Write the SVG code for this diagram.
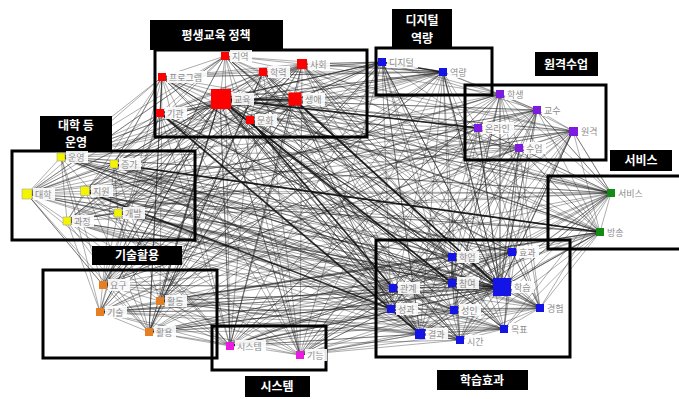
<svg xmlns="http://www.w3.org/2000/svg" width="679" height="399" viewBox="0 0 679 399">
<style>
.e{fill:none;stroke:#222;stroke-width:0.6;stroke-opacity:0.62}
.et{fill:none;stroke:#111;stroke-width:1.7;stroke-opacity:0.85}
.gb{fill:none;stroke:#000;stroke-width:3}
.tb{fill:#000}
.tt{fill:#fff;font-family:"Noto Sans CJK KR","Noto Sans",sans-serif;font-size:12px;font-weight:bold;text-anchor:middle}
.lb{fill:#fff;fill-opacity:0.9}
.lt{fill:#8c8c8c;font-family:"Noto Sans CJK KR","Noto Sans",sans-serif;font-size:9px}
.r{fill:#ff0000}.p{fill:#7d1ce0}.bl{fill:#1414e6}.y{fill:#f4f400;stroke:#999;stroke-width:0.5}
.o{fill:#e67e22}.g{fill:#138a13}.m{fill:#e81ce0}
</style>
<rect width="679" height="399" fill="#fff"/>
<g id="connectors">
<path class="e" d="M225 56L300 355 302 64 230 346 162 77 149 332 263 72 100 312 220 99 160 301 295 100 103 285 160 113 460 340 250 120 420 334 382 62 504 329 443 72 540 308 500 94 454 310 537 110 391 309 478 128 500 288 573 131 452 283 519 148 393 288 61 157 512 252 114 164 452 257 27 194 600 232 85 191 611 193 118 213 67 221 611 193 61 157 600 232 114 164 540 308 162 77 500 288 225 56 460 340 302 64 420 334 220 99 504 329 263 72 391 309 295 100 393 288 160 113 452 257 250 120 452 283"/>
<path class="e" d="M27 194L573 131 85 191 537 110 118 213 500 94 67 221 519 148 103 285 478 128 100 312 443 72 160 301 382 62 149 332 500 94 230 346 537 110 300 355 573 131 103 285 611 193 160 301 600 232 100 312 512 252 149 332 500 288 230 346 540 308 300 355 452 257 61 157 500 288 27 194 452 283 85 191 454 310 118 213 504 329 67 221 460 340 114 164 393 288 61 157 391 309"/>
<path class="e" d="M220 99L382 62 220 99 443 72 220 99 500 94 220 99 478 128 220 99 519 148 220 99 611 193 220 99 600 232 220 99 452 257 220 99 512 252 220 99 452 283 220 99 454 310 220 99 391 309 220 99 393 288 220 99 420 334 220 99 230 346 220 99 300 355 220 99 149 332 220 99 160 301 220 99 103 285 220 99 100 312 220 99 118 213 220 99 85 191 220 99 27 194 220 99 67 221 220 99 61 157 220 99 114 164 220 99 537 110 220 99 573 131 220 99 540 308 220 99 504 329 220 99 460 340"/>
<path class="e" d="M500 288L225 56 500 288 302 64 500 288 162 77 500 288 263 72 500 288 295 100 500 288 160 113 500 288 250 120 500 288 382 62 500 288 443 72 500 288 500 94 500 288 537 110 500 288 478 128 500 288 573 131 500 288 519 148 500 288 61 157 500 288 114 164 500 288 85 191 500 288 118 213 500 288 67 221 500 288 611 193 500 288 600 232 500 288 103 285 500 288 160 301 500 288 100 312 500 288 149 332 500 288 230 346 500 288 300 355"/>
<path class="e" d="M225 56L302 64 263 72 295 100 250 120 220 99 162 77 160 113 225 56 263 72 220 99 302 64 295 100 160 113 162 77 250 120 225 56 220 99 295 100 162 77 263 72 250 120 302 64 160 113 263 72 M225 56L162 77 302 64 250 120 M160 113L295 100 225 56"/>
<path class="e" d="M452 257L512 252 452 283 500 288 393 288 391 309 454 310 540 308 504 329 420 334 460 340 452 257 452 283 393 288 454 310 500 288 540 308 512 252 504 329 460 340 420 334 391 309 452 283 452 257 500 288 454 310 512 252 393 288 420 334 504 329 391 309 460 340 540 308 452 283 504 329 452 257 391 309 512 252 420 334 500 288 460 340 393 288 540 308 452 257 454 310 420 334 452 283 460 340 512 252 540 308"/>
<path class="e" d="M500 94L537 110 478 128 573 131 519 148 500 94 478 128 519 148 537 110 573 131 500 94 382 62 443 72 500 94 611 193 573 131 600 232 519 148 611 193 537 110 600 232 478 128 443 72 537 110 382 62 478 128 611 193 600 232 500 94 M611 193L452 257 600 232 393 288 611 193 391 309 600 232 420 334 611 193 454 310 600 232 460 340 611 193 540 308 600 232 504 329 611 193 512 252 600 232 452 283 611 193 27 194 600 232 61 157 611 193 302 64 600 232 295 100 611 193 250 120 600 232 160 301"/>
<path class="e" d="M61 157L114 164 27 194 85 191 118 213 67 221 61 157 27 194 118 213 114 164 85 191 67 221 27 194 103 285 61 157 100 312 114 164 160 301 27 194 149 332 85 191 230 346 67 221 300 355 118 213 103 285 160 301 100 312 149 332 103 285 230 346 100 312 300 355 160 301 230 346 149 332 300 355 M61 157L162 77 114 164 225 56 27 194 160 113 85 191 302 64 118 213 263 72 67 221 250 120 61 157 295 100 27 194 162 77 114 164 160 113 85 191 250 120 118 213 302 64 67 221 162 77"/>
<path class="e" d="M382 62L27 194 443 72 61 157 382 62 67 221 443 72 103 285 382 62 160 301 443 72 230 346 382 62 300 355 443 72 391 309 382 62 452 283 443 72 500 288 382 62 420 334 443 72 460 340 382 62 302 64 443 72 295 100 382 62 263 72 443 72 250 120 382 62 160 113 443 72 162 77 M500 94L27 194 478 128 61 157 519 148 85 191 537 110 118 213 573 131 67 221 500 94 103 285 478 128 160 301 519 148 100 312 537 110 149 332 573 131 230 346 500 94 300 355 478 128 420 334 519 148 391 309 537 110 393 288 573 131 454 310 500 94 452 283 478 128 540 308 519 148 504 329 537 110 460 340 573 131 512 252"/>
<path class="e" d="M225 56L452 257 302 64 512 252 263 72 393 288 162 77 391 309 295 100 454 310 160 113 420 334 250 120 460 340 225 56 540 308 302 64 504 329 263 72 452 283 162 77 420 334 295 100 540 308 160 113 393 288 250 120 512 252 M225 56L103 285 302 64 160 301 263 72 149 332 162 77 100 312 295 100 230 346 160 113 300 355 250 120 103 285 225 56 230 346 302 64 149 332 263 72 300 355 162 77 160 301 295 100 100 312 160 113 149 332 250 120 230 346"/>
<path class="e" d="M27 194L452 257 61 157 454 310 114 164 420 334 85 191 460 340 118 213 393 288 67 221 391 309 27 194 504 329 61 157 452 283 114 164 512 252 85 191 540 308 118 213 452 283 67 221 420 334 M103 285L452 257 160 301 391 309 100 312 393 288 149 332 454 310 230 346 420 334 300 355 391 309 103 285 460 340 160 301 504 329 100 312 452 283 149 332 512 252 230 346 452 257 300 355 454 310 230 346 393 288"/>
<path class="e" d="M160 113L611 193 162 77 600 232 225 56 573 131 263 72 519 148 250 120 537 110 M302 64L500 94 295 100 478 128 250 120 382 62 160 113 443 72 162 77 382 62 M27 194L225 56 61 157 263 72 114 164 302 64 M103 285L27 194 M100 312L67 221 149 332 118 213 230 346 61 157 M230 346L391 309 300 355 420 334 230 346 460 340 300 355 504 329 149 332 540 308 100 312 420 334 160 301 452 257 M300 355L393 288 230 346 512 252 M573 131L611 193 537 110 M519 148L600 232 M225 56L443 72 302 64 382 62 M250 120L611 193"/>
<path class="et" d="M220 99L295 100 M220 99L452 283 M250 120L393 288 M295 100L500 288 M160 113L420 334 M85 191L391 309 M114 164L600 232 M220 99L478 128 M382 62L443 72 M452 283L500 288"/>
</g>
<g id="frames">
<rect class="gb" x="155" y="50" width="212" height="87"/>
<rect class="gb" x="376" y="48" width="116" height="47"/>
<rect class="gb" x="465" y="85" width="141" height="75"/>
<rect class="gb" x="12" y="151" width="183" height="89"/>
<rect class="gb" x="548" y="176" width="140" height="73"/>
<rect class="gb" x="376" y="240" width="194" height="117"/>
<rect class="gb" x="43" y="270" width="174" height="88"/>
<rect class="gb" x="212" y="326" width="114" height="44"/>
</g>
<g id="titles">
<rect class="tb" x="150" y="20" width="133" height="30"/><text class="tt" x="216" y="40">평생교육 정책</text>
<rect class="tb" x="392" y="9" width="60" height="40"/><text class="tt" x="422" y="25">디지털</text><text class="tt" x="422" y="43">역량</text>
<rect class="tb" x="535" y="52" width="63" height="24"/><text class="tt" x="566" y="69">원격수업</text>
<rect class="tb" x="40" y="116" width="72" height="35"/><text class="tt" x="76" y="130">대학 등</text><text class="tt" x="76" y="147">운영</text>
<rect class="tb" x="610" y="150" width="62" height="21"/><text class="tt" x="641" y="165">서비스</text>
<rect class="tb" x="92" y="246" width="90" height="19"/><text class="tt" x="137" y="260">기술활용</text>
<rect class="tb" x="245" y="376" width="65" height="21"/><text class="tt" x="277" y="391">시스템</text>
<rect class="tb" x="437" y="370" width="91" height="20"/><text class="tt" x="482" y="385">학습효과</text>
</g>
<g id="n-jiyeok"><rect class="r" x="221" y="52" width="8" height="8"/><rect class="lb" x="230" y="50" width="22" height="12"/><text class="lt" x="232" y="60">지역</text></g>
<g id="n-sahoe"><rect class="r" x="297" y="59" width="10" height="10"/><rect class="lb" x="308" y="58" width="22" height="12"/><text class="lt" x="310" y="68">사회</text></g>
<g id="n-program"><rect class="r" x="158" y="73" width="8" height="8"/><rect class="lb" x="167" y="71" width="40" height="12"/><text class="lt" x="169" y="81">프로그램</text></g>
<g id="n-hakryeok"><rect class="r" x="259" y="68" width="8" height="8"/><rect class="lb" x="268" y="66" width="22" height="12"/><text class="lt" x="270" y="76">학력</text></g>
<g id="n-gyoyuk"><rect class="r" x="211" y="89" width="20" height="20"/><rect class="lb" x="232" y="93" width="22" height="12"/><text class="lt" x="234" y="103">교육</text></g>
<g id="n-saeae"><rect class="r" x="288.5" y="92.5" width="13" height="13"/><rect class="lb" x="303" y="93" width="22" height="12"/><text class="lt" x="305" y="103">생애</text></g>
<g id="n-gigwan"><rect class="r" x="156" y="109" width="8" height="8"/><rect class="lb" x="165" y="107" width="22" height="12"/><text class="lt" x="167" y="117">기관</text></g>
<g id="n-munhwa"><rect class="r" x="246" y="116" width="8" height="8"/><rect class="lb" x="255" y="114" width="22" height="12"/><text class="lt" x="257" y="124">문화</text></g>
<g id="n-digital"><rect class="bl" x="378" y="58" width="8" height="8"/><rect class="lb" x="387" y="56" width="31" height="12"/><text class="lt" x="389" y="66">디지털</text></g>
<g id="n-yeokryang"><rect class="bl" x="439" y="68" width="8" height="8"/><rect class="lb" x="448" y="66" width="22" height="12"/><text class="lt" x="450" y="76">역량</text></g>
<g id="n-haksaeng"><rect class="p" x="496" y="90" width="8" height="8"/><rect class="lb" x="505" y="88" width="22" height="12"/><text class="lt" x="507" y="98">학생</text></g>
<g id="n-gyosu"><rect class="p" x="533" y="106" width="8" height="8"/><rect class="lb" x="542" y="104" width="22" height="12"/><text class="lt" x="544" y="114">교수</text></g>
<g id="n-online"><rect class="p" x="474" y="124" width="8" height="8"/><rect class="lb" x="483" y="122" width="31" height="12"/><text class="lt" x="485" y="132">온라인</text></g>
<g id="n-wongyeok"><rect class="p" x="569" y="127" width="9" height="9"/><rect class="lb" x="579" y="125" width="22" height="12"/><text class="lt" x="581" y="135">원격</text></g>
<g id="n-sueop"><rect class="p" x="515" y="144" width="8" height="8"/><rect class="lb" x="524" y="142" width="22" height="12"/><text class="lt" x="526" y="152">수업</text></g>
<g id="n-unyeong"><rect class="y" x="57" y="153" width="8" height="8"/><rect class="lb" x="66" y="151" width="22" height="12"/><text class="lt" x="68" y="161">운영</text></g>
<g id="n-jeungga"><rect class="y" x="110" y="160" width="8" height="8"/><rect class="lb" x="119" y="158" width="22" height="12"/><text class="lt" x="121" y="168">증가</text></g>
<g id="n-daehak"><rect class="y" x="22" y="189" width="10" height="10"/><rect class="lb" x="33" y="188" width="22" height="12"/><text class="lt" x="35" y="198">대학</text></g>
<g id="n-jiwon"><rect class="y" x="80.5" y="186.5" width="9" height="9"/><rect class="lb" x="91" y="185" width="22" height="12"/><text class="lt" x="93" y="195">지원</text></g>
<g id="n-gaebal"><rect class="y" x="114" y="209" width="8" height="8"/><rect class="lb" x="123" y="207" width="22" height="12"/><text class="lt" x="125" y="217">개발</text></g>
<g id="n-gwajeong"><rect class="y" x="63" y="217" width="8" height="8"/><rect class="lb" x="72" y="215" width="22" height="12"/><text class="lt" x="74" y="225">과정</text></g>
<g id="n-service"><rect class="g" x="607" y="189" width="8" height="8"/><rect class="lb" x="616" y="187" width="31" height="12"/><text class="lt" x="618" y="197">서비스</text></g>
<g id="n-bangsong"><rect class="g" x="596" y="228" width="8" height="8"/><rect class="lb" x="605" y="226" width="22" height="12"/><text class="lt" x="607" y="236">방송</text></g>
<g id="n-hwakeop"><rect class="bl" x="448" y="253" width="8" height="8"/><rect class="lb" x="457" y="251" width="22" height="12"/><text class="lt" x="459" y="261">학업</text></g>
<g id="n-hyogwa"><rect class="bl" x="508" y="248" width="8" height="8"/><rect class="lb" x="517" y="246" width="22" height="12"/><text class="lt" x="519" y="256">효과</text></g>
<g id="n-gwangye"><rect class="bl" x="389" y="284" width="8" height="8"/><rect class="lb" x="398" y="282" width="22" height="12"/><text class="lt" x="400" y="292">관계</text></g>
<g id="n-chamyeo"><rect class="bl" x="448" y="279" width="8" height="8"/><rect class="lb" x="457" y="277" width="22" height="12"/><text class="lt" x="459" y="287">참여</text></g>
<g id="n-hakseup"><rect class="bl" x="493" y="278" width="18" height="18"/><rect class="lb" x="512" y="281" width="22" height="12"/><text class="lt" x="514" y="291">학습</text></g>
<g id="n-seonggwa"><rect class="bl" x="387" y="305" width="8" height="8"/><rect class="lb" x="396" y="303" width="22" height="12"/><text class="lt" x="398" y="313">성과</text></g>
<g id="n-seongin"><rect class="bl" x="450" y="306" width="8" height="8"/><rect class="lb" x="459" y="304" width="22" height="12"/><text class="lt" x="461" y="314">성인</text></g>
<g id="n-gyeongheom"><rect class="bl" x="536" y="304" width="8" height="8"/><rect class="lb" x="545" y="302" width="22" height="12"/><text class="lt" x="547" y="312">경험</text></g>
<g id="n-mokpyo"><rect class="bl" x="500" y="325" width="8" height="8"/><rect class="lb" x="509" y="323" width="22" height="12"/><text class="lt" x="511" y="333">목표</text></g>
<g id="n-gyeolgwa"><rect class="bl" x="415" y="329" width="10" height="10"/><rect class="lb" x="426" y="328" width="22" height="12"/><text class="lt" x="428" y="338">결과</text></g>
<g id="n-sigan"><rect class="bl" x="456" y="336" width="8" height="8"/><rect class="lb" x="465" y="335" width="22" height="12"/><text class="lt" x="467" y="345">시간</text></g>
<g id="n-yogu"><rect class="o" x="99" y="281" width="8" height="8"/><rect class="lb" x="108" y="279" width="22" height="12"/><text class="lt" x="110" y="289">요구</text></g>
<g id="n-hwaldong"><rect class="o" x="156" y="297" width="8" height="8"/><rect class="lb" x="165" y="295" width="22" height="12"/><text class="lt" x="167" y="305">활동</text></g>
<g id="n-gisul"><rect class="o" x="96" y="308" width="8" height="8"/><rect class="lb" x="105" y="306" width="22" height="12"/><text class="lt" x="107" y="316">기술</text></g>
<g id="n-hwaryong"><rect class="o" x="145" y="328" width="8" height="8"/><rect class="lb" x="154" y="326" width="22" height="12"/><text class="lt" x="156" y="336">활용</text></g>
<g id="n-system"><rect class="m" x="226" y="342" width="8" height="8"/><rect class="lb" x="235" y="340" width="31" height="12"/><text class="lt" x="237" y="350">시스템</text></g>
<g id="n-gineung"><rect class="m" x="296" y="351" width="8" height="8"/><rect class="lb" x="305" y="349" width="22" height="12"/><text class="lt" x="307" y="359">기능</text></g>
</svg>
